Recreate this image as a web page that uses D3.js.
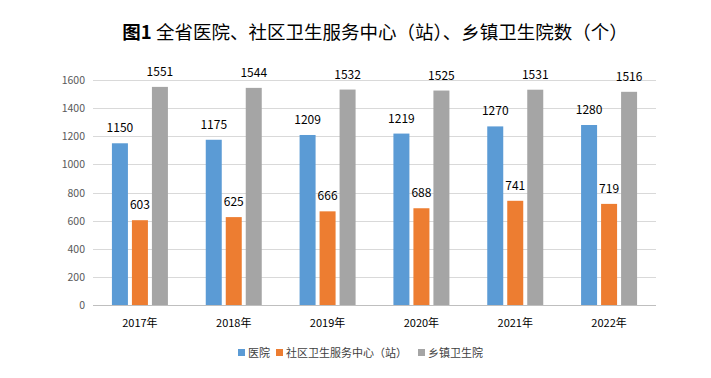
<!DOCTYPE html>
<html><head><meta charset="utf-8">
<script src="https://cdn.jsdelivr.net/npm/d3@7"></script>
<style>body{margin:0;background:#fff;} svg{display:block;}</style>
</head><body>
<svg id="c" width="711" height="378"></svg>
<script>
const categories = ["2017年","2018年","2019年","2020年","2021年","2022年"];
const seriesNames = ["医院","社区卫生服务中心（站）","乡镇卫生院"];
const hospitals = [1150,1175,1209,1219,1270,1280];
const community = [603,625,666,688,741,719];
const township = [1551,1544,1532,1525,1531,1516];
const yTicks = [0,200,400,600,800,1000,1200,1400,1600];
const colors = ["#5b9bd5","#ed7d31","#a5a5a5"];
const series = [hospitals, community, township];

(function(){
const svg = d3.select("#c");
const font = "'Noto Sans CJK SC','Microsoft YaHei',sans-serif";
const pL = 93, pR = 656, pT = 80, pB = 305;
const x = d3.scaleBand().domain(categories).range([pL,pR]);
const y = d3.scaleLinear().domain([0,1600]).range([pB,pT]);
const barW = 16, gap = 4;

svg.append("text").attr("x",375).attr("y",39).attr("text-anchor","middle")
  .attr("font-family",font).attr("font-size",18.5).attr("fill","#000")
  .call(t=>{t.append("tspan").attr("font-weight","bold").text("图1");
            t.append("tspan").text("  全省医院、社区卫生服务中心（站）、乡镇卫生院数（个）");});

svg.append("g").selectAll("line").data(yTicks).join("line")
  .attr("x1",pL).attr("x2",pR).attr("y1",d=>Math.round(y(d))+0.5).attr("y2",d=>Math.round(y(d))+0.5)
  .attr("stroke",d=>d===0?"#bfbfbf":"#d9d9d9").attr("stroke-width",1);

svg.append("g").selectAll("text").data(yTicks).join("text")
  .attr("x",pL-8).attr("y",d=>y(d)+4).attr("text-anchor","end")
  .attr("font-family",font).attr("font-size",10.5).attr("fill","#595959").text(d=>d);

series.forEach((s,i)=>{
  const g = svg.append("g");
  const off = x.bandwidth()/2 - (3*barW+2*gap)/2 + i*(barW+gap);
  g.selectAll("rect").data(s).join("rect")
    .attr("x",(d,j)=>x(categories[j])+off).attr("width",barW)
    .attr("y",d=>y(d)).attr("height",d=>pB-y(d)).attr("fill",colors[i]);
  g.selectAll("text").data(s).join("text")
    .attr("x",(d,j)=>x(categories[j])+off+barW/2).attr("y",d=>y(d)-11)
    .attr("text-anchor","middle").attr("font-family",font).attr("font-size",12).attr("fill","#000").text(d=>d);
});

svg.append("g").selectAll("text").data(categories).join("text")
  .attr("x",d=>x(d)+x.bandwidth()/2).attr("y",327).attr("text-anchor","middle")
  .attr("font-family",font).attr("font-size",11).attr("fill","#000").text(d=>d);

const lg = svg.append("g").attr("font-family",font).attr("font-size",11);
const items = [{n:seriesNames[0],x:238},{n:seriesNames[1],x:276},{n:seriesNames[2],x:418}];
items.forEach((it,i)=>{
  lg.append("rect").attr("x",it.x).attr("y",349).attr("width",7).attr("height",7).attr("fill",colors[i]);
  lg.append("text").attr("x",it.x+10).attr("y",357).attr("fill","#404040").text(it.n);
});
})();
</script>
</body></html>
